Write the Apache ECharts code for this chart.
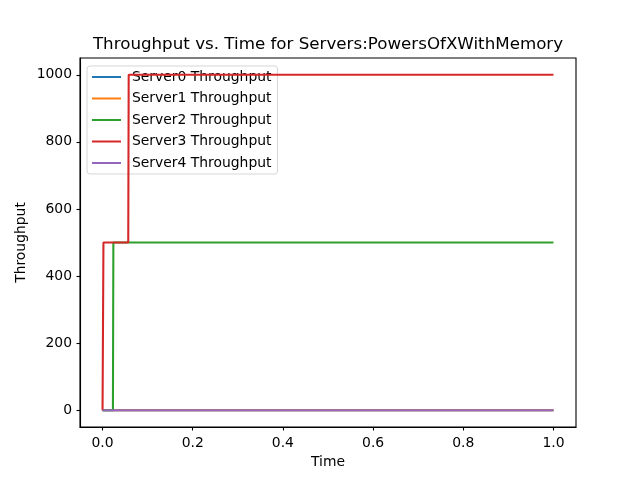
<!DOCTYPE html>
<html>
<head>
<meta charset="utf-8">
<script src="https://cdn.jsdelivr.net/npm/echarts@6/dist/echarts.min.js"></script>
<style>html,body{margin:0;padding:0;background:#fff}#c{width:640px;height:480px}</style>
</head>
<body>
<div id="c"></div>
<script>
var seriesNames = ['Server0 Throughput', 'Server1 Throughput', 'Server2 Throughput', 'Server3 Throughput', 'Server4 Throughput'];
var server0Time = [0, 1];
var server0Values = [0, 0];
var server1Time = [0, 1];
var server1Values = [0, 0];
var server2Time = [0, 0.023, 0.024, 1];
var server2Values = [0, 0, 500, 500];
var server3Time = [0, 0.001, 0.002, 0.057, 0.058, 1];
var server3Values = [0, 0, 500, 500, 1000, 1000];
var server4Time = [0, 1];
var server4Values = [0, 0];
var xTicks = [0, 0.2, 0.4, 0.6, 0.8, 1.0];
var yTicks = [0, 200, 400, 600, 800, 1000];
var colors = ['#1f77b4', '#ff7f0e', '#2ca02c', '#d62728', '#9467bd'];

function pairs(t, v) { return t.map(function (x, i) { return [x, v[i]]; }); }
var allData = [
  pairs(server0Time, server0Values),
  pairs(server1Time, server1Values),
  pairs(server2Time, server2Values),
  pairs(server3Time, server3Values),
  pairs(server4Time, server4Values)
];
var font = 'DejaVu Sans';
var chart = echarts.init(document.getElementById('c'), null, {renderer: 'canvas'});
chart.setOption({
  animation: false,
  backgroundColor: '#fff',
  color: colors,
  title: {
    text: 'Throughput vs. Time for Servers:PowersOfXWithMemory',
    left: 323, top: 31, textAlign: 'center',
    textStyle: {fontFamily: font, fontSize: 16.7, fontWeight: 'normal', color: '#000'}
  },
  legend: {
    orient: 'vertical', left: 87, top: 66,
    data: seriesNames,
    icon: 'rect', itemWidth: 29, itemHeight: 2, itemGap: 7.5,
    padding: [4, 6, 4, 5],
    backgroundColor: 'rgba(255,255,255,0.8)',
    borderColor: 'rgba(204,204,204,0.8)', borderWidth: 1, borderRadius: 3,
    textStyle: {fontFamily: font, fontSize: 13.9, color: '#000', lineHeight: 14, padding: [0, 0, 0, 6]}
  },
  grid: {left: 80, right: 64, top: 58, bottom: 53, show: true, borderColor: '#000', borderWidth: 1.1, backgroundColor: 'transparent'},
  xAxis: {
    type: 'value', min: -0.05, max: 1.05,
    name: 'Time', nameLocation: 'middle', nameGap: 28.5, nameMoveOverlap: false,
    nameTextStyle: {fontFamily: font, fontSize: 13.9, color: '#000'},
    axisLine: {show: true, onZero: false, lineStyle: {color: '#000', width: 1.1}},
    axisTick: {show: true, length: 3.5, lineStyle: {color: '#000', width: 1.1}, customValues: xTicks},
    axisLabel: {fontFamily: font, fontSize: 13.9, color: '#000', margin: 9.5, customValues: xTicks,
      formatter: function (v) { return v.toFixed(1); }},
    splitLine: {show: false}
  },
  yAxis: {
    type: 'value', min: -50, max: 1050,
    name: 'Throughput', nameLocation: 'middle', nameGap: 52, nameMoveOverlap: false,
    nameTextStyle: {fontFamily: font, fontSize: 13.9, color: '#000'},
    axisLine: {show: true, onZero: false, lineStyle: {color: '#000', width: 1.1}},
    axisTick: {show: true, length: 3.5, lineStyle: {color: '#000', width: 1.1}, customValues: yTicks},
    axisLabel: {fontFamily: font, fontSize: 13.9, color: '#000', margin: 8, customValues: yTicks,
      formatter: function (v) { return String(v); }},
    splitLine: {show: false}
  },
  series: allData.map(function (d, i) {
    return {
      name: seriesNames[i], type: 'line', data: d, showSymbol: false, symbol: 'none',
      lineStyle: {width: 2.08, color: colors[i]}, itemStyle: {color: colors[i]}, z: 2 + i
    };
  })
});
</script>
</body>
</html>
